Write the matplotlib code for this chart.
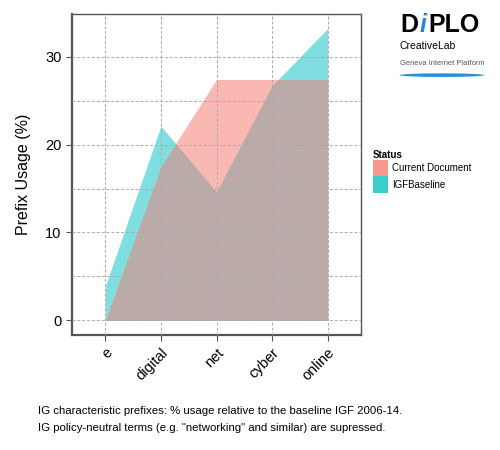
import numpy as np
import matplotlib
matplotlib.use("Agg")
import matplotlib.pyplot as plt
from matplotlib.patches import Patch, Ellipse

plt.rcParams['font.family'] = ['Liberation Sans', 'DejaVu Sans']

# data
prefixes = ['e', 'digital', 'net', 'cyber', 'online']
current_doc = [0.0, 17.5, 27.4, 27.4, 27.4]
igf_baseline = [3.9, 22.1, 14.6, 26.7, 33.2]

pink = '#FAB8B3'
cyan = '#7FDFE0'
overlap = '#BAABA8'

fig = plt.figure(figsize=(5, 4.5), dpi=100)
ax = fig.add_axes([0.144, 0.2556, 0.578, 0.7134])

x = np.arange(len(prefixes))
xd = np.linspace(0, len(prefixes) - 1, 800)
cur_d = np.interp(xd, x, current_doc)
base_d = np.interp(xd, x, igf_baseline)

ax.fill_between(x, 0, igf_baseline, color=cyan, lw=0, zorder=1)
ax.fill_between(x, 0, current_doc, color=pink, lw=0, zorder=1)
ax.fill_between(xd, 0, np.minimum(cur_d, base_d), color=overlap, lw=0, zorder=2)

ax.set_xlim(-0.6, len(prefixes) - 1 + 0.6)
ax.set_ylim(-1.66, 34.86)
ax.set_xticks(x)
ax.set_xticklabels(prefixes, rotation=45, ha='right', va='top',
                   rotation_mode='anchor', fontsize=10)
ax.set_yticks([0, 10, 20, 30])
ax.set_yticks([5, 15, 25], minor=True)
ax.tick_params(axis='y', which='minor', length=0)
ax.tick_params(axis='both', which='major', labelsize=10.5, length=4,
               color='#555555', width=0.8)
ax.grid(True, which='both', color='#aaaaaa', linestyle=(0, (3, 2)), lw=0.7, zorder=3)
ax.set_axisbelow(False)
for sp in ax.spines.values():
    sp.set_color('#555555')
    sp.set_linewidth(1.0)
ax.spines['left'].set_linewidth(1.6)
ax.spines['bottom'].set_linewidth(1.6)
ax.set_ylabel('Prefix Usage (%)', fontsize=11.5, labelpad=10)

handles = [Patch(facecolor='#F8968F', edgecolor='none'),
           Patch(facecolor='#3ECDCD', edgecolor='none')]
leg = fig.legend(handles, ['Current Document', 'IGFBaseline'], title='Status',
                 loc='upper left', bbox_to_anchor=(0.738, 0.675), frameon=False,
                 fontsize=7, title_fontsize=7, handlelength=1.6, handleheight=2.2,
                 handletextpad=0.4, labelspacing=0.0, borderaxespad=0)
leg.get_title().set_fontweight('bold')
leg._legend_box.align = 'left'

# logo
fig.text(0.800, 0.945, 'D', fontsize=18, fontweight='bold', color='black', va='center')
fig.text(0.840, 0.945, 'i', fontsize=18, fontweight='bold', style='italic',
         color='#1E88D0', va='center')
fig.text(0.856, 0.945, 'PLO', fontsize=18, fontweight='bold', color='black', va='center')
fig.text(0.80, 0.898, 'CreativeLab', fontsize=7.5, va='center')
fig.text(0.80, 0.858, 'Geneva Internet Platform', fontsize=5.4, color='#555555',
         va='center')
fig.patches.append(Ellipse((0.884, 0.833), 0.17, 0.008,
                           transform=fig.transFigure, color='#2A8FD8', lw=0))

fig.text(0.076, 0.087, 'IG characteristic prefixes: % usage relative to the baseline IGF 2006-14.',
         fontsize=8.2, va='center')
fig.text(0.076, 0.049, 'IG policy-neutral terms (e.g. "networking" and similar) are supressed.',
         fontsize=8.2, va='center')

fig.savefig('out.png', dpi=100)
